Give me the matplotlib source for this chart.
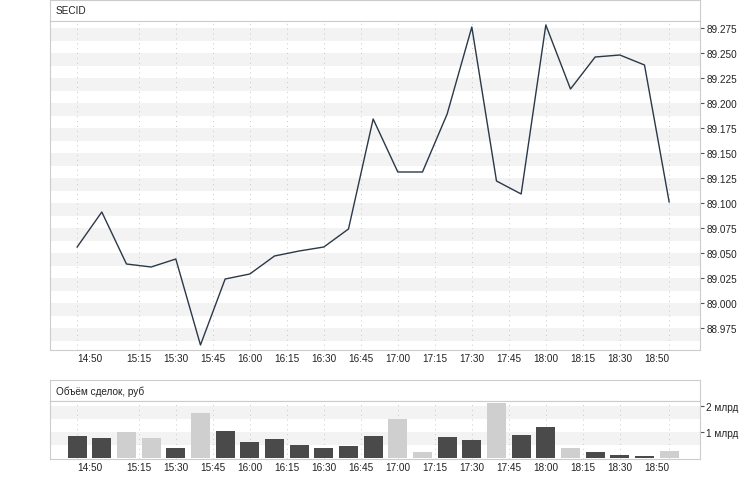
import matplotlib.pyplot as plt
from matplotlib.ticker import FixedLocator, FuncFormatter

# 10-minute points, 14:50 .. 18:50
times = ['14:50', '15:00', '15:10', '15:20', '15:30', '15:40', '15:50', '16:00',
         '16:10', '16:20', '16:30', '16:40', '16:50', '17:00', '17:10', '17:20',
         '17:30', '17:40', '17:50', '18:00', '18:10', '18:20', '18:30', '18:40', '18:50']
price = [89.056, 89.091, 89.039, 89.036, 89.044, 88.958, 89.024, 89.029,
         89.047, 89.052, 89.056, 89.074, 89.184, 89.131, 89.131, 89.189,
         89.276, 89.122, 89.109, 89.278, 89.214, 89.246, 89.248, 89.238, 89.101]
# volume, billions of rub
volume = [0.85, 0.76, 1.00, 0.76, 0.37, 1.73, 1.04, 0.62,
          0.72, 0.50, 0.37, 0.45, 0.85, 1.49, 0.23, 0.81,
          0.69, 2.12, 0.88, 1.19, 0.38, 0.23, 0.12, 0.06, 0.27]
bar_dark = [1, 1, 0, 0, 1, 0, 1, 1, 1, 1, 1, 1, 1, 0, 0, 1,
            1, 0, 1, 1, 0, 1, 1, 1, 0]
xtick_labels = ['14:50', '15:15', '15:30', '15:45', '16:00', '16:15', '16:30', '16:45',
                '17:00', '17:15', '17:30', '17:45', '18:00', '18:15', '18:30', '18:50']
price_ticks = [88.975, 89.000, 89.025, 89.050, 89.075, 89.100, 89.125, 89.150,
               89.175, 89.200, 89.225, 89.250, 89.275]
vol_ticks = [1, 2]
vol_tick_labels = ['1 млрд', '2 млрд']


def to_min(s):
    h, m = s.split(':')
    return int(h) * 60 + int(m)


x = [to_min(t) for t in times]
xt = [to_min(t) for t in xtick_labels]

W, H = 750, 485
BORDER = '#cccccc'
FS = 7.2
plt.rcParams['font.family'] = ['Liberation Sans', 'DejaVu Sans']

fig = plt.figure(figsize=(W / 100, H / 100), dpi=100)


def px_axes(x0, y0, x1, y1):
    return fig.add_axes([x0 / W, 1 - y1 / H, (x1 - x0) / W, (y1 - y0) / H])


def header(y0, y1, text):
    ax = px_axes(50, y0, 700, y1)
    ax.set_xticks([])
    ax.set_yticks([])
    for s in ax.spines.values():
        s.set_color(BORDER)
    ax.text(0.009, 0.5, text, transform=ax.transAxes, va='center', ha='left',
            fontsize=FS, color='#222222')


def style_panel(ax, ticks, step, labels=None):
    ax.set_xlim(879, 1142.5)
    for t in ticks:
        ax.axhspan(t - step / 2, t, color='#f3f3f3', lw=0, zorder=0)
    for t in xt:
        ax.axvline(t, color='#c8c8c8', lw=0.7, ls=(0, (1, 4)), zorder=1)
    for s in ax.spines.values():
        s.set_color(BORDER)
    ax.yaxis.tick_right()
    ax.set_yticks(ticks)
    if labels is not None:
        ax.set_yticklabels(labels)
    ax.tick_params(axis='y', length=3, width=0.8, color='#555555', pad=1.5,
                   labelsize=FS, labelcolor='#222222')
    ax.xaxis.set_major_locator(FixedLocator(xt))
    ax.set_xticklabels(xtick_labels)
    ax.tick_params(axis='x', length=0, pad=2.5, labelsize=FS, labelcolor='#222222')
    lbls = ax.get_xticklabels()
    lbls[0].set_ha('left')
    lbls[-1].set_ha('right')


# price panel
header(1, 22, 'SECID')
ax1 = px_axes(50, 22, 700, 351)
style_panel(ax1, price_ticks, 0.025)
ax1.yaxis.set_major_formatter(FuncFormatter(lambda v, p: f'{v:.3f}'))
ax1.set_ylim(88.953, 89.282)
ax1.plot(x, price, color='#2b3848', lw=1.0, zorder=3)

# volume panel
header(381, 402, 'Объём сделок, руб')
ax2 = px_axes(50, 402, 700, 460)
style_panel(ax2, vol_ticks, 1.0, vol_tick_labels)
ax2.set_ylim(-0.05, 2.18)
colors = ['#4a4a4a' if d else '#cfcfcf' for d in bar_dark]
ax2.bar(x, volume, width=7.6, color=colors, zorder=3)

fig.savefig('out.png', dpi=100)
